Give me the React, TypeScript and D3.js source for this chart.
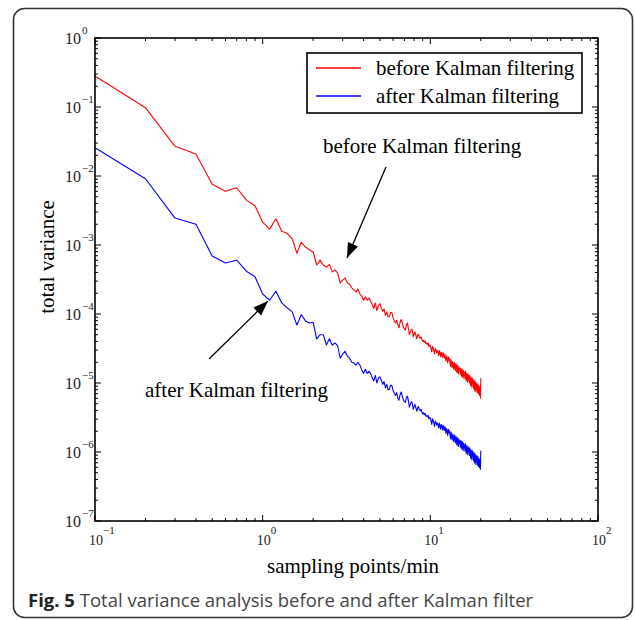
import React from "react";
import * as d3 from "d3";

// log10(total variance), one value per sampling step 0.1 .. 20 min
const beforeLog10 = [
  -0.55, -1.01, -1.57, -1.68, -2.12, -2.22, -2.17, -2.35, -2.43, -2.67,
  -2.77, -2.62, -2.8, -2.83, -2.91, -3.12, -2.96, -3.03, -3.07, -3.1,
  -3.29, -3.22, -3.29, -3.32, -3.28, -3.39, -3.36, -3.41, -3.55, -3.51,
  -3.48, -3.55, -3.57, -3.62, -3.65, -3.68, -3.64, -3.71, -3.74, -3.8,
  -3.75, -3.8, -3.77, -3.81, -3.86, -3.92, -3.84, -3.95, -3.88, -3.85,
  -3.91, -3.96, -3.93, -4.02, -3.97, -4.04, -4.04, -3.98, -3.98, -4.06,
  -4.1, -4.13, -4.09, -4.16, -4.2, -4.12, -4.08, -4.13, -4.19, -4.22,
  -4.23, -4.16, -4.13, -4.21, -4.3, -4.26, -4.22, -4.23, -4.33, -4.29,
  -4.26, -4.31, -4.36, -4.31, -4.29, -4.34, -4.35, -4.33, -4.37, -4.4,
  -4.38, -4.41, -4.39, -4.43, -4.42, -4.44, -4.42, -4.47, -4.45, -4.46,
  -4.5, -4.55, -4.47, -4.49, -4.53, -4.58, -4.5, -4.52, -4.56, -4.53,
  -4.55, -4.6, -4.53, -4.57, -4.62, -4.55, -4.58, -4.63, -4.56, -4.6,
  -4.64, -4.58, -4.62, -4.68, -4.61, -4.65, -4.71, -4.62, -4.67, -4.64,
  -4.7, -4.76, -4.66, -4.72, -4.78, -4.69, -4.74, -4.8, -4.7, -4.75,
  -4.82, -4.72, -4.78, -4.85, -4.74, -4.81, -4.87, -4.76, -4.83, -4.79,
  -4.88, -4.78, -4.84, -4.91, -4.8, -4.86, -4.93, -4.82, -4.89, -4.85,
  -4.94, -4.83, -4.9, -4.97, -4.86, -4.92, -4.99, -4.87, -4.95, -4.9,
  -5.0, -4.89, -4.96, -5.04, -4.92, -4.98, -5.06, -4.93, -5.01, -4.97,
  -5.08, -4.95, -5.03, -5.11, -4.98, -5.05, -5.13, -5.0, -5.08, -5.03,
  -5.14, -5.01, -5.09, -5.16, -5.04, -5.1, -5.18, -5.06, -5.22, -4.93,
];

const afterLog10 = [
  -1.59, -2.04, -2.61, -2.7, -3.16, -3.26, -3.22, -3.38, -3.46, -3.71,
  -3.8, -3.67, -3.84, -3.91, -3.97, -4.16, -4.01, -4.1, -4.13, -4.12,
  -4.36, -4.3, -4.3, -4.45, -4.36, -4.45, -4.42, -4.46, -4.64, -4.58,
  -4.54, -4.61, -4.64, -4.7, -4.71, -4.74, -4.7, -4.74, -4.81, -4.86,
  -4.8, -4.86, -4.83, -4.86, -4.92, -4.97, -4.89, -5.0, -4.93, -4.91,
  -4.96, -5.02, -4.98, -5.07, -5.02, -5.1, -5.09, -5.03, -5.04, -5.11,
  -5.15, -5.18, -5.14, -5.22, -5.25, -5.17, -5.13, -5.19, -5.24, -5.27,
  -5.28, -5.21, -5.19, -5.26, -5.35, -5.31, -5.27, -5.29, -5.38, -5.34,
  -5.31, -5.36, -5.41, -5.36, -5.34, -5.39, -5.4, -5.38, -5.42, -5.45,
  -5.43, -5.46, -5.44, -5.48, -5.47, -5.49, -5.47, -5.52, -5.5, -5.51,
  -5.55, -5.6, -5.52, -5.54, -5.58, -5.63, -5.55, -5.57, -5.61, -5.58,
  -5.6, -5.65, -5.58, -5.62, -5.67, -5.6, -5.63, -5.68, -5.61, -5.65,
  -5.69, -5.63, -5.67, -5.73, -5.66, -5.7, -5.76, -5.67, -5.72, -5.69,
  -5.75, -5.81, -5.71, -5.77, -5.83, -5.74, -5.79, -5.85, -5.75, -5.8,
  -5.87, -5.77, -5.83, -5.9, -5.79, -5.86, -5.92, -5.81, -5.88, -5.84,
  -5.93, -5.83, -5.89, -5.96, -5.85, -5.91, -5.98, -5.87, -5.94, -5.9,
  -5.99, -5.88, -5.95, -6.02, -5.91, -5.97, -6.04, -5.92, -6.0, -5.95,
  -6.05, -5.94, -6.01, -6.09, -5.97, -6.03, -6.11, -5.98, -6.06, -6.02,
  -6.13, -6.0, -6.08, -6.16, -6.03, -6.1, -6.18, -6.05, -6.13, -6.08,
  -6.19, -6.06, -6.14, -6.21, -6.09, -6.15, -6.23, -6.11, -6.25, -5.98,
];

const samplingPoints = d3.range(1, 201).map((k) => k / 10);

const xDecades = [-1, 0, 1, 2];
const yDecades = [0, -1, -2, -3, -4, -5, -6, -7];

const seriesNames = ["before Kalman filtering", "after Kalman filtering"];
const seriesColors = ["#ff0000", "#0000ff"];

const W = 635;
const H = 620;
const left = 95;
const right = 598;
const top = 38;
const bottom = 521;

const serif = "'Liberation Serif', 'Times New Roman', serif";

const exp = (n: number) => (n < 0 ? "\u2212" + Math.abs(n) : String(n));

export default function App() {
  const x = d3.scaleLog().domain([0.1, 100]).range([left, right]);
  const y = d3.scaleLog().domain([1e-7, 1]).range([bottom, top]);

  const line = d3
    .line<number>()
    .x((d, i) => x(samplingPoints[i]))
    .y((d) => y(Math.pow(10, d)));

  const xMinor: number[] = [];
  xDecades.slice(0, -1).forEach((e) => {
    for (let m = 2; m <= 9; m++) xMinor.push(m * Math.pow(10, e));
  });
  const yMinor: number[] = [];
  yDecades.slice(1).forEach((e) => {
    for (let m = 2; m <= 9; m++) yMinor.push(m * Math.pow(10, e));
  });

  const major = 6;
  const minor = 3;

  const arrowHead = (x1: number, y1: number, x2: number, y2: number) => {
    const a = Math.atan2(y2 - y1, x2 - x1);
    const len = 15;
    const half = 5.5;
    const bx = x2 - len * Math.cos(a);
    const by = y2 - len * Math.sin(a);
    const px = -Math.sin(a) * half;
    const py = Math.cos(a) * half;
    return `M${x2},${y2}L${bx + px},${by + py}L${bx - px},${by - py}Z`;
  };

  const arrows = [
    [386, 167, 347, 258],
    [209, 359, 268, 301],
  ];

  return (
    <svg
      width={W}
      height={H}
      style={{ position: "absolute", left: 0, top: 0, background: "#fff" }}
    >
      <rect
        x={13.5}
        y={8.5}
        width={619}
        height={609}
        rx={11}
        fill="none"
        stroke="#333"
        strokeWidth={1.6}
      />

      {/* data lines */}
      {[beforeLog10, afterLog10].map((s, i) => (
        <path
          key={i}
          d={line(s) || ""}
          fill="none"
          stroke={seriesColors[i]}
          strokeWidth={1.1}
          strokeLinejoin="round"
        />
      ))}

      {/* axes box */}
      <rect
        x={left}
        y={top}
        width={right - left}
        height={bottom - top}
        fill="none"
        stroke="#000"
        strokeWidth={1.6}
      />

      {/* ticks, all inward */}
      <g stroke="#000" strokeWidth={1}>
        {xDecades.map((e) => {
          const px = x(Math.pow(10, e));
          return (
            <g key={"xM" + e}>
              <line x1={px} x2={px} y1={bottom} y2={bottom - major} />
              <line x1={px} x2={px} y1={top} y2={top + major} />
            </g>
          );
        })}
        {xMinor.map((v) => (
          <g key={"xm" + v}>
            <line x1={x(v)} x2={x(v)} y1={bottom} y2={bottom - minor} />
            <line x1={x(v)} x2={x(v)} y1={top} y2={top + minor} />
          </g>
        ))}
        {yDecades.map((e) => {
          const py = y(Math.pow(10, e));
          return (
            <g key={"yM" + e}>
              <line x1={left} x2={left + major} y1={py} y2={py} />
              <line x1={right} x2={right - major} y1={py} y2={py} />
            </g>
          );
        })}
        {yMinor.map((v) => (
          <g key={"ym" + v}>
            <line x1={left} x2={left + minor} y1={y(v)} y2={y(v)} />
            <line x1={right} x2={right - minor} y1={y(v)} y2={y(v)} />
          </g>
        ))}
      </g>

      {/* tick labels */}
      <g fontFamily={serif} fill="#222">
        {xDecades.map((e) => {
          const px = x(Math.pow(10, e));
          return (
            <g key={"xl" + e}>
              <text x={px - 6} y={545} fontSize={14}>
                10
              </text>
              <text x={px + 8} y={534} fontSize={11}>
                {exp(e)}
              </text>
            </g>
          );
        })}
        {yDecades.map((e) => {
          const py = y(Math.pow(10, e));
          return (
            <g key={"yl" + e}>
              <text x={81} y={py + 6} fontSize={16} textAnchor="end">
                10
              </text>
              <text x={82} y={py - 4} fontSize={11}>
                {exp(e)}
              </text>
            </g>
          );
        })}
      </g>

      {/* axis titles */}
      <text
        x={353}
        y={573}
        fontFamily={serif}
        fontSize={21}
        textAnchor="middle"
        fill="#000"
      >
        sampling points/min
      </text>
      <text
        transform="translate(54,257) rotate(-90)"
        fontFamily={serif}
        fontSize={21}
        textAnchor="middle"
        fill="#000"
      >
        total variance
      </text>

      {/* legend */}
      <rect
        x={307}
        y={53}
        width={275}
        height={60}
        fill="#fff"
        stroke="#000"
        strokeWidth={1.6}
      />
      {seriesNames.map((n, i) => (
        <g key={n}>
          <line
            x1={316}
            x2={361}
            y1={68 + i * 28}
            y2={68 + i * 28}
            stroke={seriesColors[i]}
            strokeWidth={1.3}
          />
          <text x={376} y={75 + i * 28} fontFamily={serif} fontSize={21}>
            {n}
          </text>
        </g>
      ))}

      {/* annotations */}
      <text x={323} y={153} fontFamily={serif} fontSize={21}>
        {seriesNames[0]}
      </text>
      <text x={145} y={397} fontFamily={serif} fontSize={21}>
        {seriesNames[1]}
      </text>
      {arrows.map(([x1, y1, x2, y2], i) => (
        <g key={i}>
          <line x1={x1} y1={y1} x2={x2} y2={y2} stroke="#000" strokeWidth={1.3} />
          <path d={arrowHead(x1, y1, x2, y2)} fill="#000" />
        </g>
      ))}

      {/* caption */}
      <text x={28} y={607} fontFamily="'Open Sans', sans-serif" fontSize={18.5} fill="#444">
        <tspan fontWeight="bold" fill="#222">
          Fig. 5
        </tspan>
        <tspan> Total variance analysis before and after Kalman filter</tspan>
      </text>
    </svg>
  );
}
